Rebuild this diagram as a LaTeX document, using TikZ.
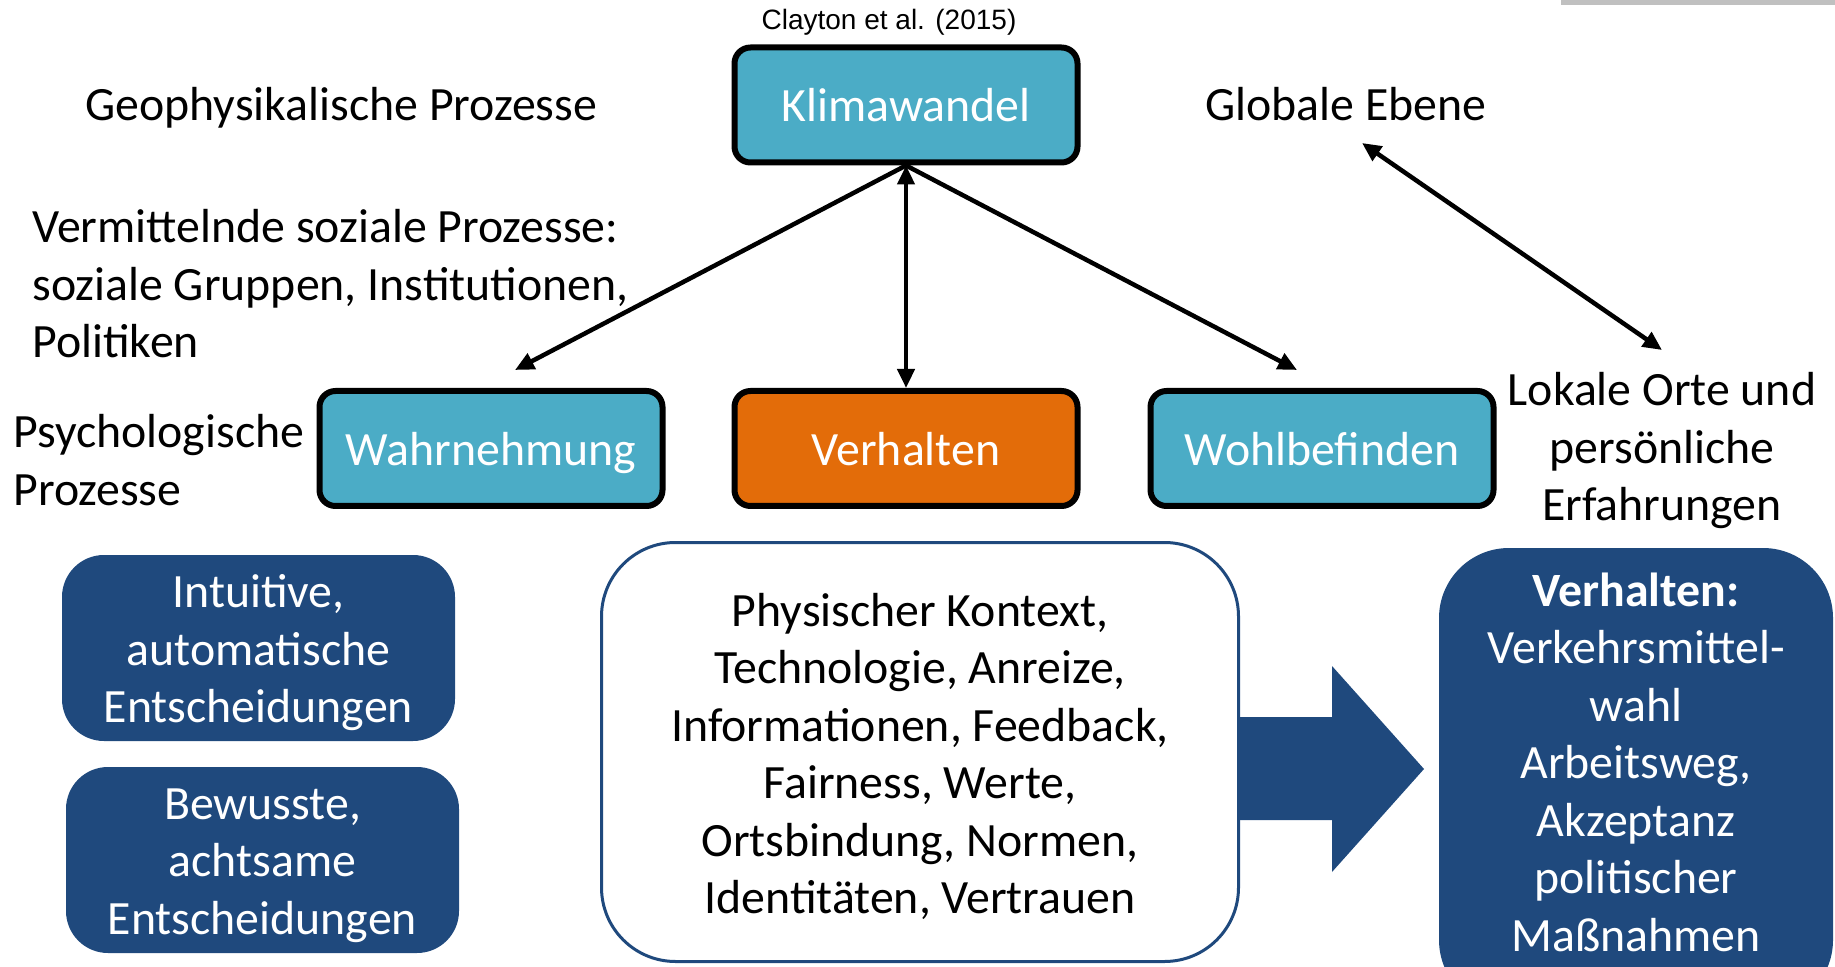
\documentclass[tikz,border=0pt]{standalone}
\usepackage{fontspec}
\setmainfont{Carlito}
\newfontfamily\citefont{Liberation Sans}
\usetikzlibrary{arrows.meta}
\definecolor{aqua}{HTML}{4BACC6}
\definecolor{rust}{HTML}{E36C09}
\definecolor{navy}{HTML}{1F497D}
\definecolor{rulegray}{HTML}{C0C0C0}
\begin{document}
\begin{tikzpicture}[x=0.5pt,y=-0.5pt,
  bigfont/.style={font=\fontsize{23.9}{28.75}\selectfont},
  lbl/.style={bigfont, inner sep=0pt},
  procbox/.style={bigfont, draw=black, line width=3pt, rounded corners=8pt,
    minimum width=171.5pt, minimum height=57.5pt, inner sep=0pt, text=white,
    text depth=0pt},
  decbox/.style={bigfont, fill=navy, rounded corners=21pt, text=white,
    align=center, minimum width=196.5pt, minimum height=93pt, inner sep=0pt,
    text depth=0pt},
  link/.style={line width=2.25pt, -{Triangle[length=9.5pt,width=8.5pt]}},
  twoway/.style={line width=2.25pt, {Triangle[length=9.5pt,width=8.5pt]}-{Triangle[length=9.5pt,width=8.5pt]}}
]
\useasboundingbox (0,0) rectangle (1835,967);

% thin rule in the upper right corner
\fill[rulegray] (1561,0) rectangle (1835,5);

% source line
\node[font=\citefont\fontsize{14}{17}\selectfont, anchor=base, inner sep=0pt] (cite) at (889,30) {Clayton et al. (2015)};

% level labels (multi-line labels are anchored at their last baseline)
\node[lbl, anchor=base west] (geo) at (85,121) {Geophysikalische Prozesse};
\node[lbl, anchor=base west] (global) at (1205,121) {Globale Ebene};
\node[lbl, anchor=base west, align=left] (social) at (32,358)
  {Vermittelnde soziale Prozesse:\\soziale Gruppen, Institutionen,\\Politiken};
\node[lbl, anchor=base west, align=left] (psych) at (13,505.5) {Psychologische\\Prozesse};
\node[lbl, anchor=base, align=center] (local) at (1662,521) {Lokale Orte und\\persönliche\\Erfahrungen};

% process boxes
\node[procbox, fill=aqua] (klima) at (906,105) {Klimawandel};
\node[procbox, fill=aqua] (wahr) at (491,448.5) {Wahrnehmung};
\node[procbox, fill=rust] (verh) at (906,448.5) {Verhalten};
\node[procbox, fill=aqua] (wohl) at (1322,448.5) {Wohlbefinden};

% arrows out of the climate box
\coordinate (wahrtip) at (515,370);
\coordinate (wohltip) at (1297,370);
\coordinate (globaltip) at (1362,143);
\coordinate (localtip) at (1662,350);
\draw[link] (klima.south) -- (wahrtip);
\draw[twoway] (klima.south) -- (verh.north);
\draw[link] (klima.south) -- (wohltip);
\draw[twoway] (globaltip) -- (localtip);

% decision modes
\node[decbox, text height=74.5pt] (intuit) at (258.5,648) {Intuitive,\\automatische\\Entscheidungen};
\node[decbox, text height=74pt] (bewusst) at (262.5,860) {Bewusste,\\achtsame\\Entscheidungen};

% context factors
\node[bigfont, draw=navy, line width=1.5pt, fill=white, rounded corners=37pt,
  minimum width=318.5pt, minimum height=209.5pt, inner sep=0pt, align=center,
  text height=161.5pt, text depth=0pt] (ctx) at (920,752)
  {Physischer Kontext,\\Technologie, Anreize,\\Informationen, Feedback,\\Fairness, Werte,\\Ortsbindung, Normen,\\Identitäten, Vertrauen};

% block arrow towards the behaviour box
\fill[navy] (ctx.east |- 0,717) -- (1332,717) -- (1332,666) -- (1424,769)
  -- (1332,872) -- (1332,820) -- (ctx.east |- 0,820) -- cycle;

% behaviour box, running off the lower edge
\begin{scope}
\clip (0,0) rectangle (1835,967);
\fill[navy, rounded corners=35pt] (1439,548) rectangle (1833,1010);
\end{scope}
\node[bigfont, text=white, align=center, inner sep=0pt] (result) at (1636,762)
  {\textbf{Verhalten:}\\Verkehrsmittel-\\wahl\\Arbeitsweg,\\Akzeptanz\\politischer\\Maßnahmen};
\end{tikzpicture}
\end{document}
